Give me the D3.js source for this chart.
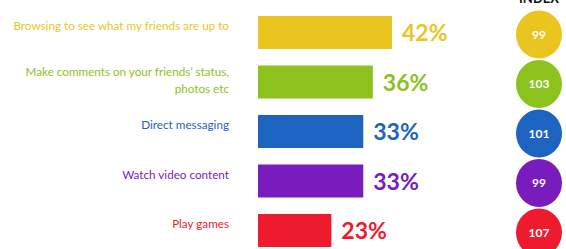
<!DOCTYPE html>
<html>
<head>
<meta charset="utf-8">
<script src="https://cdn.jsdelivr.net/npm/d3@7"></script>
<style>
  body { margin: 0; background: #fff; }
  svg { display: block; }
  text { font-family: Lato, "Open Sans", sans-serif; }
</style>
</head>
<body>
<div id="container"></div>
<script>
// chart data
var categories = [
  "Browsing to see what my friends are up to",
  "Make comments on your friends\u2019 status,|photos etc",
  "Direct messaging",
  "Watch video content",
  "Play games"
];
var shares = [42, 36, 33, 33, 23];
var indexValues = [99, 103, 101, 99, 107];
var colors = ["#ebc51f", "#8cc21e", "#1c64c0", "#7a1bbe", "#ee1b2e"];

var w = 566, h = 249;

var svg = d3.select("div#container")
  .append("svg")
  .attr("width", w)
  .attr("height", h);

var x = d3.scaleLinear()
  .domain([0, 50])
  .range([258, 417.5]);

var y = d3.scaleBand()
  .domain(categories)
  .range([7.75, 255.25])
  .paddingInner(1 / 3)
  .paddingOuter(1 / 6);

var rows = categories.map(function(c, i) {
  return { cat: c, share: shares[i], idx: indexValues[i], color: colors[i] };
});

var row = svg.append("g")
  .selectAll("g")
  .data(rows)
  .enter().append("g");

// bars
row.append("rect")
  .attr("x", x(0))
  .attr("y", function(d) { return y(d.cat); })
  .attr("width", function(d) { return x(d.share) - x(0); })
  .attr("height", y.bandwidth())
  .attr("fill", function(d) { return d.color; });

// percent labels
row.append("text")
  .attr("x", function(d) { return x(d.share) + 10; })
  .attr("y", function(d) { return y(d.cat) + y.bandwidth() / 2 + 8.5; })
  .attr("fill", function(d) { return d.color; })
  .style("font-size", "23px")
  .style("font-weight", "bold")
  .text(function(d) { return d.share + "%"; });

// category labels (| splits lines)
var lab = row.append("text")
  .attr("text-anchor", "end")
  .attr("fill", function(d) { return d.color; })
  .style("font-size", "11.7px");

lab.each(function(d) {
  var lines = d.cat.split("|");
  var base = y(d.cat) + y.bandwidth() / 2 - (lines.length > 1 ? 6 : 2.5);
  d3.select(this).selectAll("tspan")
    .data(lines)
    .enter().append("tspan")
    .attr("x", 229)
    .attr("y", function(l, i) { return base + i * 17; })
    .text(function(l) { return l; });
});

// index circles
row.append("ellipse")
  .attr("cx", 539)
  .attr("cy", function(d) { return y(d.cat) + y.bandwidth() / 2 + 2; })
  .attr("rx", 23)
  .attr("ry", 24)
  .attr("fill", function(d) { return d.color; });

row.append("text")
  .attr("x", 539)
  .attr("y", function(d) { return y(d.cat) + y.bandwidth() / 2 + 6; })
  .attr("text-anchor", "middle")
  .attr("fill", "#fff")
  .style("font-size", "12px")
  .style("font-weight", "bold")
  .text(function(d) { return d.idx; });

// header, clipped at top like the source
svg.append("text")
  .attr("x", 539)
  .attr("y", 3)
  .attr("text-anchor", "middle")
  .attr("fill", "#111")
  .style("font-size", "13px")
  .style("font-weight", "bold")
  .text("INDEX");
</script>
</body>
</html>
